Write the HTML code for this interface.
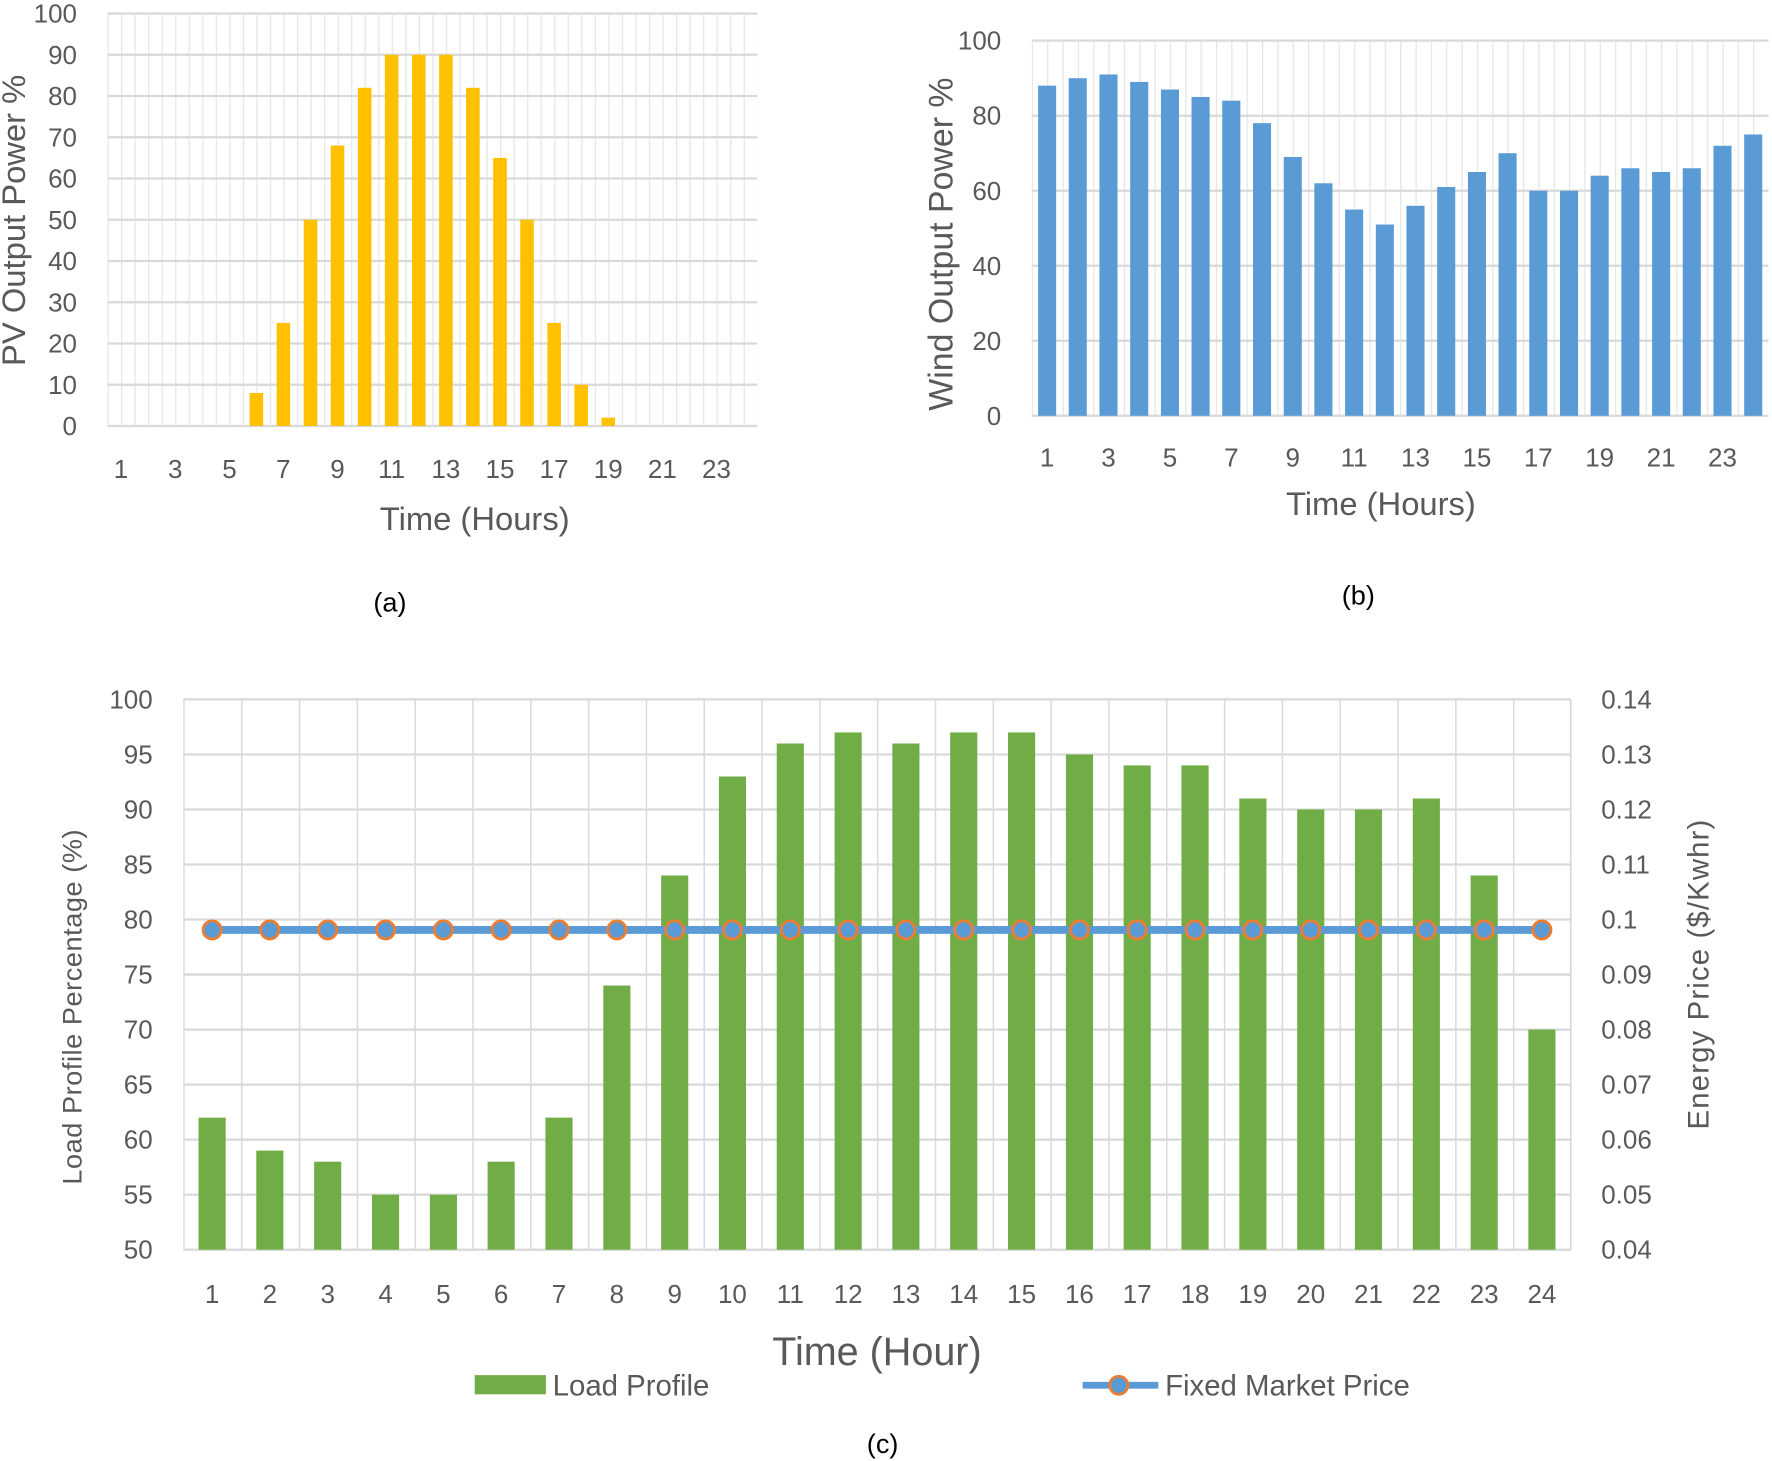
<!DOCTYPE html>
<html><head><meta charset="utf-8"><style>
html,body{margin:0;padding:0;background:#fff}
svg{display:block}
text{font-family:"Liberation Sans",sans-serif;fill:#595959}
</style></head><body>
<svg width="1772" height="1461" viewBox="0 0 1568 1293" xmlns="http://www.w3.org/2000/svg">
<defs>
<pattern id="va" patternUnits="userSpaceOnUse" x="95" y="0" width="11.979" height="10"><line x1="0.5" y1="0" x2="0.5" y2="10" stroke="#e6e6e6" stroke-width="1.2"/></pattern>
<pattern id="vb" patternUnits="userSpaceOnUse" x="913" y="0" width="13.583" height="10"><line x1="0.5" y1="0" x2="0.5" y2="10" stroke="#e6e6e6" stroke-width="1.2"/></pattern>
<pattern id="vc" patternUnits="userSpaceOnUse" x="162" y="0" width="51.167" height="10"><line x1="0.5" y1="0" x2="0.5" y2="10" stroke="#d9d9d9" stroke-width="1.6"/></pattern>
</defs>

<!-- Chart A -->
<rect x="95" y="12" width="575" height="365" fill="url(#va)"/>
<g stroke="#d9d9d9" stroke-width="2">
<line x1="95" x2="670" y1="12" y2="12"/><line x1="95" x2="670" y1="48.5" y2="48.5"/><line x1="95" x2="670" y1="85" y2="85"/><line x1="95" x2="670" y1="121.5" y2="121.5"/><line x1="95" x2="670" y1="158" y2="158"/><line x1="95" x2="670" y1="194.5" y2="194.5"/><line x1="95" x2="670" y1="231" y2="231"/><line x1="95" x2="670" y1="267.5" y2="267.5"/><line x1="95" x2="670" y1="304" y2="304"/><line x1="95" x2="670" y1="340.5" y2="340.5"/><line x1="95" x2="670" y1="377" y2="377"/>
</g>
<g fill="#FFC000">
<rect x="220.8" y="347.8" width="12" height="29.2"/><rect x="244.7" y="285.75" width="12" height="91.25"/><rect x="268.7" y="194.5" width="12" height="182.5"/><rect x="292.6" y="128.8" width="12" height="248.2"/><rect x="316.6" y="77.7" width="12" height="299.3"/><rect x="340.5" y="48.5" width="12" height="328.5"/><rect x="364.5" y="48.5" width="12" height="328.5"/><rect x="388.5" y="48.5" width="12" height="328.5"/><rect x="412.4" y="77.7" width="12" height="299.3"/><rect x="436.4" y="139.75" width="12" height="237.25"/><rect x="460.3" y="194.5" width="12" height="182.5"/><rect x="484.3" y="285.75" width="12" height="91.25"/><rect x="508.2" y="340.5" width="12" height="36.5"/><rect x="532.2" y="369.7" width="12" height="7.3"/>
</g>
<g font-size="23" text-anchor="end">
<text x="68" y="20">100</text><text x="68" y="56.5">90</text><text x="68" y="93">80</text><text x="68" y="129.5">70</text><text x="68" y="166">60</text><text x="68" y="202.5">50</text><text x="68" y="239">40</text><text x="68" y="275.5">30</text><text x="68" y="312">20</text><text x="68" y="348.5">10</text><text x="68" y="385">0</text>
</g>
<g font-size="23" text-anchor="middle">
<text x="107" y="423">1</text><text x="155" y="423">3</text><text x="203" y="423">5</text><text x="250.7" y="423">7</text><text x="298.6" y="423">9</text><text x="346.5" y="423">11</text><text x="394.5" y="423">13</text><text x="442.4" y="423">15</text><text x="490.3" y="423">17</text><text x="538.2" y="423">19</text><text x="586.1" y="423">21</text><text x="634" y="423">23</text>
</g>
<text x="420" y="469" font-size="29" text-anchor="middle">Time (Hours)</text>
<text transform="translate(22,195) rotate(-90)" font-size="29" text-anchor="middle">PV Output Power %</text>
<text x="345" y="541" font-size="24" text-anchor="middle" style="fill:#000">(a)</text>

<!-- Chart B -->
<rect x="913" y="36" width="652" height="332" fill="url(#vb)"/>
<g stroke="#d9d9d9" stroke-width="2">
<line x1="913" x2="1565" y1="36" y2="36"/><line x1="913" x2="1565" y1="102.4" y2="102.4"/><line x1="913" x2="1565" y1="168.8" y2="168.8"/><line x1="913" x2="1565" y1="235.2" y2="235.2"/><line x1="913" x2="1565" y1="301.6" y2="301.6"/><line x1="913" x2="1565" y1="368" y2="368"/>
</g>
<g fill="#5B9BD5">
<rect x="918.6" y="75.8" width="16" height="292.2"/><rect x="945.7" y="69.2" width="16" height="298.8"/><rect x="972.9" y="65.9" width="16" height="302.1"/><rect x="1000.1" y="72.5" width="16" height="295.5"/><rect x="1027.3" y="79.2" width="16" height="288.8"/><rect x="1054.4" y="85.8" width="16" height="282.2"/><rect x="1081.6" y="89.1" width="16" height="278.9"/><rect x="1108.8" y="109" width="16" height="259"/><rect x="1136" y="138.9" width="16" height="229.1"/><rect x="1163.1" y="162.2" width="16" height="205.8"/><rect x="1190.3" y="185.4" width="16" height="182.6"/><rect x="1217.5" y="198.7" width="16" height="169.3"/><rect x="1244.6" y="182.1" width="16" height="185.9"/><rect x="1271.8" y="165.5" width="16" height="202.5"/><rect x="1299" y="152.2" width="16" height="215.8"/><rect x="1326.1" y="135.6" width="16" height="232.4"/><rect x="1353.3" y="168.8" width="16" height="199.2"/><rect x="1380.5" y="168.8" width="16" height="199.2"/><rect x="1407.6" y="155.5" width="16" height="212.5"/><rect x="1434.8" y="148.9" width="16" height="219.1"/><rect x="1462" y="152.2" width="16" height="215.8"/><rect x="1489.1" y="148.9" width="16" height="219.1"/><rect x="1516.3" y="129" width="16" height="239"/><rect x="1543.5" y="119" width="16" height="249"/>
</g>
<g font-size="23" text-anchor="end">
<text x="886" y="44">100</text><text x="886" y="110.4">80</text><text x="886" y="176.8">60</text><text x="886" y="243.2">40</text><text x="886" y="309.6">20</text><text x="886" y="376">0</text>
</g>
<g font-size="23" text-anchor="middle">
<text x="926.6" y="413">1</text><text x="980.9" y="413">3</text><text x="1035.3" y="413">5</text><text x="1089.6" y="413">7</text><text x="1144" y="413">9</text><text x="1198.3" y="413">11</text><text x="1252.6" y="413">13</text><text x="1307" y="413">15</text><text x="1361.3" y="413">17</text><text x="1415.6" y="413">19</text><text x="1470" y="413">21</text><text x="1524.3" y="413">23</text>
</g>
<text x="1222" y="456" font-size="29" text-anchor="middle">Time (Hours)</text>
<text transform="translate(843,216) rotate(-90)" font-size="30" text-anchor="middle">Wind Output Power %</text>
<text x="1202" y="535" font-size="24" text-anchor="middle" style="fill:#000">(b)</text>

<!-- Chart C -->
<rect x="162" y="619" width="1228" height="487" fill="url(#vc)"/>
<line x1="1390" x2="1390" y1="619" y2="1106" stroke="#d9d9d9" stroke-width="1.6"/>
<g stroke="#d9d9d9" stroke-width="2">
<line x1="162" x2="1390" y1="619" y2="619"/><line x1="162" x2="1390" y1="667.7" y2="667.7"/><line x1="162" x2="1390" y1="716.4" y2="716.4"/><line x1="162" x2="1390" y1="765.1" y2="765.1"/><line x1="162" x2="1390" y1="813.8" y2="813.8"/><line x1="162" x2="1390" y1="862.5" y2="862.5"/><line x1="162" x2="1390" y1="911.2" y2="911.2"/><line x1="162" x2="1390" y1="959.9" y2="959.9"/><line x1="162" x2="1390" y1="1008.6" y2="1008.6"/><line x1="162" x2="1390" y1="1057.3" y2="1057.3"/><line x1="162" x2="1390" y1="1106" y2="1106"/>
</g>
<g fill="#70AD47">
<rect x="175.6" y="989.1" width="24" height="116.9"/><rect x="226.7" y="1018.3" width="24" height="87.7"/><rect x="277.9" y="1028.1" width="24" height="77.9"/><rect x="329.1" y="1057.3" width="24" height="48.7"/><rect x="380.3" y="1057.3" width="24" height="48.7"/><rect x="431.4" y="1028.1" width="24" height="77.9"/><rect x="482.6" y="989.1" width="24" height="116.9"/><rect x="533.8" y="872.2" width="24" height="233.8"/><rect x="585" y="774.8" width="24" height="331.2"/><rect x="636.1" y="687.2" width="24" height="418.8"/><rect x="687.3" y="658" width="24" height="448"/><rect x="738.5" y="648.2" width="24" height="457.8"/><rect x="789.6" y="658" width="24" height="448"/><rect x="840.8" y="648.2" width="24" height="457.8"/><rect x="892" y="648.2" width="24" height="457.8"/><rect x="943.2" y="667.7" width="24" height="438.3"/><rect x="994.3" y="677.4" width="24" height="428.6"/><rect x="1045.5" y="677.4" width="24" height="428.6"/><rect x="1096.7" y="706.7" width="24" height="399.3"/><rect x="1147.9" y="716.4" width="24" height="389.6"/><rect x="1199" y="716.4" width="24" height="389.6"/><rect x="1250.2" y="706.7" width="24" height="399.3"/><rect x="1301.4" y="774.8" width="24" height="331.2"/><rect x="1352.5" y="911.2" width="24" height="194.8"/>
</g>
<line x1="187.6" x2="1364.5" y1="823" y2="823" stroke="#5B9BD5" stroke-width="7"/>
<g fill="#5B9BD5" stroke="#ED7D31" stroke-width="2.5">
<circle cx="187.6" cy="823" r="8"/><circle cx="238.7" cy="823" r="8"/><circle cx="289.9" cy="823" r="8"/><circle cx="341.1" cy="823" r="8"/><circle cx="392.3" cy="823" r="8"/><circle cx="443.4" cy="823" r="8"/><circle cx="494.6" cy="823" r="8"/><circle cx="545.8" cy="823" r="8"/><circle cx="597" cy="823" r="8"/><circle cx="648.1" cy="823" r="8"/><circle cx="699.3" cy="823" r="8"/><circle cx="750.5" cy="823" r="8"/><circle cx="801.6" cy="823" r="8"/><circle cx="852.8" cy="823" r="8"/><circle cx="904" cy="823" r="8"/><circle cx="955.2" cy="823" r="8"/><circle cx="1006.3" cy="823" r="8"/><circle cx="1057.5" cy="823" r="8"/><circle cx="1108.7" cy="823" r="8"/><circle cx="1159.9" cy="823" r="8"/><circle cx="1211" cy="823" r="8"/><circle cx="1262.2" cy="823" r="8"/><circle cx="1313.4" cy="823" r="8"/><circle cx="1364.5" cy="823" r="8"/>
</g>
<g font-size="23" text-anchor="end">
<text x="135" y="627">100</text><text x="135" y="675.7">95</text><text x="135" y="724.4">90</text><text x="135" y="773.1">85</text><text x="135" y="821.8">80</text><text x="135" y="870.5">75</text><text x="135" y="919.2">70</text><text x="135" y="967.9">65</text><text x="135" y="1016.6">60</text><text x="135" y="1065.3">55</text><text x="135" y="1114">50</text>
</g>
<g font-size="23" text-anchor="start">
<text x="1417" y="627">0.14</text><text x="1417" y="675.7">0.13</text><text x="1417" y="724.4">0.12</text><text x="1417" y="773.1">0.11</text><text x="1417" y="821.8">0.1</text><text x="1417" y="870.5">0.09</text><text x="1417" y="919.2">0.08</text><text x="1417" y="967.9">0.07</text><text x="1417" y="1016.6">0.06</text><text x="1417" y="1065.3">0.05</text><text x="1417" y="1114">0.04</text>
</g>
<g font-size="23" text-anchor="middle">
<text x="187.6" y="1153">1</text><text x="238.7" y="1153">2</text><text x="289.9" y="1153">3</text><text x="341.1" y="1153">4</text><text x="392.3" y="1153">5</text><text x="443.4" y="1153">6</text><text x="494.6" y="1153">7</text><text x="545.8" y="1153">8</text><text x="597" y="1153">9</text><text x="648.1" y="1153">10</text><text x="699.3" y="1153">11</text><text x="750.5" y="1153">12</text><text x="801.6" y="1153">13</text><text x="852.8" y="1153">14</text><text x="904" y="1153">15</text><text x="955.2" y="1153">16</text><text x="1006.3" y="1153">17</text><text x="1057.5" y="1153">18</text><text x="1108.7" y="1153">19</text><text x="1159.9" y="1153">20</text><text x="1211" y="1153">21</text><text x="1262.2" y="1153">22</text><text x="1313.4" y="1153">23</text><text x="1364.5" y="1153">24</text>
</g>
<text x="776" y="1208" font-size="35" text-anchor="middle">Time (Hour)</text>
<text transform="translate(72,891) rotate(-90)" font-size="24" text-anchor="middle" letter-spacing="0.5">Load Profile Percentage  (%)</text>
<text transform="translate(1512,862) rotate(-90)" font-size="26" text-anchor="middle" letter-spacing="1">Energy Price ($/Kwhr)</text>
<rect x="420" y="1217" width="63" height="17" fill="#70AD47"/>
<text x="489" y="1235" font-size="26">Load Profile</text>
<line x1="958" x2="1025" y1="1226" y2="1226" stroke="#5B9BD5" stroke-width="6"/>
<circle cx="990" cy="1226" r="8" fill="#5B9BD5" stroke="#ED7D31" stroke-width="2.5"/>
<text x="1031" y="1235" font-size="26">Fixed Market Price</text>
<text x="781" y="1286" font-size="24" text-anchor="middle" style="fill:#000">(c)</text>
</svg>
</body></html>
